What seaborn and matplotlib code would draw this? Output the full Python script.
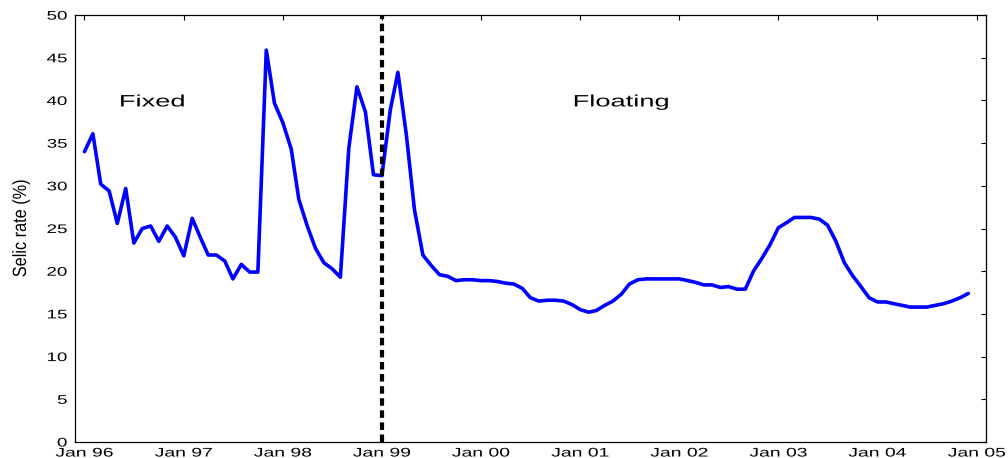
import matplotlib
matplotlib.use("Agg")
import matplotlib.pyplot as plt
from matplotlib.patheffects import AbstractPathEffect
from matplotlib.transforms import Affine2D
import seaborn as sns
import pandas as pd

# Monthly Selic rate (%), Jan 1996 - Dec 2004
months = pd.date_range("1996-01-01", periods=108, freq="MS")
selic_96 = [34.0, 36.1, 30.2, 29.4, 25.6, 29.7, 23.3, 25.0, 25.3, 23.5, 25.3, 24.0]
selic_97 = [21.8, 26.2, 24.1, 21.9, 21.9, 21.2, 19.1, 20.8, 19.9, 19.9, 45.9, 39.7]
selic_98 = [37.4, 34.3, 28.4, 25.3, 22.7, 21.0, 20.3, 19.3, 34.4, 41.6, 38.7, 31.3]
selic_99 = [31.2, 38.9, 43.3, 36.0, 27.2, 21.9, 20.7, 19.6, 19.4, 18.9, 19.0, 19.0]
selic_00 = [18.9, 18.9, 18.8, 18.6, 18.5, 18.0, 16.9, 16.5, 16.6, 16.6, 16.5, 16.1]
selic_01 = [15.5, 15.2, 15.4, 16.0, 16.5, 17.3, 18.5, 19.0, 19.1, 19.1, 19.1, 19.1]
selic_02 = [19.1, 18.9, 18.7, 18.4, 18.4, 18.1, 18.2, 17.9, 17.9, 20.0, 21.5, 23.1]
selic_03 = [25.1, 25.7, 26.3, 26.3, 26.3, 26.1, 25.4, 23.5, 21.0, 19.5, 18.2, 16.9]
selic_04 = [16.4, 16.4, 16.2, 16.0, 15.8, 15.8, 15.8, 16.0, 16.2, 16.5, 16.9, 17.4]
selic = selic_96 + selic_97 + selic_98 + selic_99 + selic_00 + selic_01 + selic_02 + selic_03 + selic_04

regime_break = pd.Timestamp("1999-01-01")
tick_dates = pd.date_range("1996-01-01", "2005-01-01", freq="YS")
tick_labels = [d.strftime("Jan %y") for d in tick_dates]
y_ticks = list(range(0, 55, 5))

df = pd.DataFrame({"date": months, "selic": selic})


class Stretch(AbstractPathEffect):
    """Scale drawn text around an anchor (wide Helvetica look of the original)."""
    def __init__(self, sx=1.0, sy=1.0, anchor="center"):
        super().__init__()
        self.sx, self.sy, self.anchor = sx, sy, anchor

    def draw_path(self, renderer, gc, tpath, affine, rgbFace=None):
        ext = tpath.get_extents(affine)
        cx = {"left": ext.x0, "right": ext.x1}.get(self.anchor, (ext.x0 + ext.x1) / 2)
        cy = (ext.y0 + ext.y1) / 2
        t = affine + Affine2D().translate(-cx, -cy).scale(self.sx, self.sy).translate(cx, cy)
        renderer.draw_path(gc, tpath, t, rgbFace)


sns.set_style("white")
plt.rcParams["font.family"] = ["Liberation Sans", "DejaVu Sans"]
plt.rcParams["text.color"] = "black"
plt.rcParams["axes.labelcolor"] = "black"

fig = plt.figure(figsize=(10.08, 4.58), dpi=100)
ax = fig.add_axes([0.0749, 0.035, 0.9033, 0.932])

sns.lineplot(data=df, x="date", y="selic", color="#0000ff", linewidth=2.6, ax=ax)
ax.axvline(regime_break, color="black", linewidth=3.0, linestyle=(0, (1.8, 1.1)))

t1 = ax.text(pd.Timestamp("1996-05-10"), 39.3, "Fixed", fontsize=11.9, ha="left", va="baseline")
t2 = ax.text(pd.Timestamp("2000-12-07"), 39.3, "Floating", fontsize=11.9, ha="left", va="baseline")
for t in (t1, t2):
    t.set_path_effects([Stretch(sx=1.65, anchor="left")])

ax.set_xlim(pd.Timestamp("1995-11-29"), pd.Timestamp("2005-02-04"))
ax.set_ylim(0, 50)
ax.set_xticks(tick_dates)
ax.set_xticklabels(tick_labels)
ax.set_yticks(y_ticks)
ax.set_xlabel("")
ax.set_ylabel("Selic rate (%)", fontsize=13.8)
ax.yaxis.set_label_coords(-0.050, 0.5)
ax.yaxis.label.set_path_effects([Stretch(sy=0.85)])

ax.tick_params(direction="in", top=True, right=True, length=3.6, width=0.8,
               labelsize=9, colors="black")
ax.tick_params(axis="x", pad=4)
ax.tick_params(axis="y", pad=6)
for lbl in ax.get_xticklabels():
    lbl.set_path_effects([Stretch(sx=1.55)])
for lbl in ax.get_yticklabels():
    lbl.set_path_effects([Stretch(sx=1.5, anchor="right")])
for s in ax.spines.values():
    s.set_color("black")
    s.set_linewidth(0.9)

fig.savefig("out.png", dpi=100)
